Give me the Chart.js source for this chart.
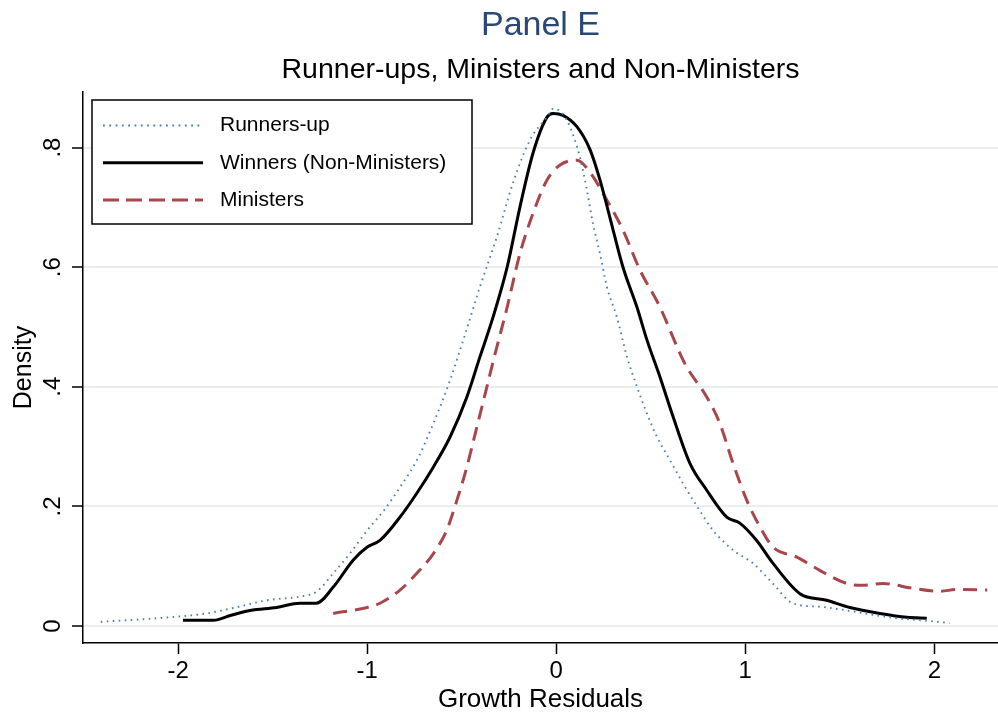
<!DOCTYPE html>
<html>
<head>
<meta charset="utf-8">
<title>Panel E</title>
<script src="https://cdn.jsdelivr.net/npm/chart.js@4.4.1/dist/chart.umd.min.js"></script>
<style>
  html, body { margin: 0; padding: 0; background: #fff; }
  #wrap { width: 998px; height: 717px; }
</style>
</head>
<body>
<div id="wrap"><canvas id="chartDensidad" width="998" height="717"></canvas></div>
<script>
// Datos (densidades kernel)
const runnersX = [-2.41, -2.2, -1.99, -1.85, -1.71, -1.53, -1.36, -1.27, -1.18, -1.09, -1.0, -0.91, -0.827, -0.738, -0.65, -0.562, -0.48, -0.404, -0.314, -0.229, -0.139, -0.049, -0.017, 0.03, 0.072, 0.125, 0.162, 0.194, 0.231, 0.268, 0.321, 0.374, 0.427, 0.48, 0.533, 0.602, 0.671, 0.745, 0.829, 0.935, 1.04, 1.146, 1.25, 1.4, 1.537, 1.65, 1.8, 1.95, 2.08];
const runnersY = [0.007, 0.011, 0.016, 0.021, 0.030, 0.043, 0.049, 0.057, 0.088, 0.122, 0.16, 0.194, 0.232, 0.277, 0.339, 0.411, 0.49, 0.567, 0.651, 0.741, 0.813, 0.851, 0.865, 0.858, 0.835, 0.784, 0.729, 0.673, 0.623, 0.567, 0.516, 0.450, 0.400, 0.355, 0.316, 0.277, 0.238, 0.200, 0.160, 0.127, 0.105, 0.071, 0.038, 0.032, 0.026, 0.020, 0.013, 0.009, 0.005];

const winnersX = [-1.975, -1.815, -1.72, -1.62, -1.48, -1.357, -1.27, -1.18, -1.075, -1.0, -0.933, -0.827, -0.738, -0.65, -0.562, -0.473, -0.404, -0.335, -0.26, -0.192, -0.123, -0.049, -0.017, 0.035, 0.109, 0.178, 0.231, 0.3, 0.353, 0.427, 0.48, 0.549, 0.618, 0.707, 0.796, 0.902, 0.971, 1.06, 1.146, 1.289, 1.43, 1.553, 1.712, 1.855, 1.96];
const winnersY = [0.0095, 0.0095, 0.018, 0.026, 0.031, 0.038, 0.038, 0.065, 0.11, 0.132, 0.143, 0.182, 0.222, 0.266, 0.316, 0.383, 0.45, 0.516, 0.6, 0.701, 0.791, 0.851, 0.857, 0.854, 0.835, 0.797, 0.746, 0.663, 0.6, 0.533, 0.478, 0.416, 0.35, 0.272, 0.227, 0.182, 0.172, 0.143, 0.105, 0.054, 0.043, 0.031, 0.021, 0.0145, 0.013];

const ministersX = [-1.18, -1.0, -0.933, -0.827, -0.738, -0.65, -0.58, -0.526, -0.473, -0.42, -0.367, -0.332, -0.26, -0.192, -0.123, -0.049, 0.02, 0.109, 0.178, 0.268, 0.353, 0.443, 0.549, 0.654, 0.69, 0.796, 0.865, 0.935, 1.008, 1.077, 1.146, 1.273, 1.394, 1.537, 1.62, 1.728, 1.887, 2.03, 2.12, 2.28];
const ministersY = [0.021, 0.031, 0.038, 0.06, 0.088, 0.121, 0.16, 0.21, 0.266, 0.333, 0.4, 0.445, 0.533, 0.623, 0.69, 0.746, 0.771, 0.779, 0.759, 0.712, 0.662, 0.595, 0.533, 0.456, 0.433, 0.383, 0.339, 0.272, 0.21, 0.166, 0.132, 0.115, 0.093, 0.071, 0.068, 0.071, 0.063, 0.058, 0.061, 0.06];

const xTicks = [-2, -1, 0, 1, 2];
const xTickLabels = ['-2', '-1', '0', '1', '2'];
const yTicks = [0, 0.2, 0.4, 0.6, 0.8];
const yTickLabels = ['0', '.2', '.4', '.6', '.8'];

const fuente = '"Liberation Sans", Arial, Helvetica, sans-serif';

function puntos(xs, ys) {
    return xs.map((x, i) => ({ x: x, y: ys[i] }));
}

// Leyenda con marco dentro del área del gráfico
const leyendaCaja = {
    id: 'leyendaCaja',
    afterDatasetsDraw(chart) {
        const { ctx, chartArea } = chart;
        const x0 = chartArea.left + 9;
        const y0 = chartArea.top + 8;
        const w = 380, h = 124;
        ctx.save();
        ctx.fillStyle = '#ffffff';
        ctx.fillRect(x0, y0, w, h);
        ctx.strokeStyle = '#000000';
        ctx.lineWidth = 1.5;
        ctx.strokeRect(x0, y0, w, h);
        chart.data.datasets.forEach((ds, i) => {
            const y = y0 + 25.5 + i * 37.3;
            ctx.beginPath();
            ctx.setLineDash(ds.legendDash || []);
            ctx.strokeStyle = ds.borderColor;
            ctx.lineWidth = ds.borderWidth;
            ctx.moveTo(x0 + 11, y);
            ctx.lineTo(x0 + 111, y);
            ctx.stroke();
            ctx.setLineDash([]);
            ctx.fillStyle = '#000000';
            ctx.font = '21px ' + fuente;
            ctx.textBaseline = 'middle';
            ctx.textAlign = 'left';
            ctx.fillText(ds.label, x0 + 128, y);
        });
        ctx.restore();
    }
};

const chartDensidad = document.getElementById('chartDensidad');
if (chartDensidad) {
    const ctx = chartDensidad.getContext('2d');

    new Chart(ctx, {
        type: 'line',
        data: {
            datasets: [
                {
                    label: 'Runners-up',
                    data: puntos(runnersX, runnersY),
                    borderColor: '#4a7fb0',
                    borderWidth: 1.9,
                    borderDash: [1.6, 4.4],
                    legendDash: [1.8, 4.5],
                    pointRadius: 0,
                    cubicInterpolationMode: 'monotone'
                },
                {
                    label: 'Winners (Non-Ministers)',
                    data: puntos(winnersX, winnersY),
                    borderColor: '#000000',
                    borderWidth: 3,
                    pointRadius: 0,
                    cubicInterpolationMode: 'monotone'
                },
                {
                    label: 'Ministers',
                    data: puntos(ministersX, ministersY),
                    borderColor: '#a9464b',
                    borderWidth: 3,
                    borderDash: [14, 8],
                    legendDash: [16, 7],
                    pointRadius: 0,
                    cubicInterpolationMode: 'monotone'
                }
            ]
        },
        options: {
            responsive: false,
            animation: false,
            devicePixelRatio: 1,
            layout: { padding: 0 },
            plugins: {
                legend: { display: false },
                tooltip: { enabled: false },
                title: {
                    display: true,
                    text: 'Panel E',
                    color: '#2a4775',
                    fullSize: false,
                    font: { family: fuente, size: 34, weight: 'normal' },
                    padding: { top: 5, bottom: 7 }
                },
                subtitle: {
                    display: true,
                    text: 'Runner-ups, Ministers and Non-Ministers',
                    color: '#000000',
                    fullSize: false,
                    font: { family: fuente, size: 28.5, weight: 'normal' },
                    padding: { top: 0, bottom: 5 }
                }
            },
            scales: {
                x: {
                    type: 'linear',
                    min: -2.504,
                    max: 2.337,
                    afterBuildTicks: scale => { scale.ticks = xTicks.map(v => ({ value: v })); },
                    afterFit: scale => { scale.height = 74; },
                    ticks: {
                        callback: value => xTickLabels[xTicks.indexOf(value)],
                        color: '#000000',
                        font: { family: fuente, size: 24 },
                        padding: 3,
                        maxRotation: 0
                    },
                    grid: {
                        drawOnChartArea: false,
                        drawTicks: true,
                        tickLength: 11,
                        tickColor: '#000000',
                        tickWidth: 1.5
                    },
                    border: { display: true, color: '#000000', width: 1.5 },
                    title: {
                        display: true,
                        text: 'Growth Residuals',
                        color: '#000000',
                        font: { family: fuente, size: 26 },
                        padding: { top: 0, bottom: 2 }
                    }
                },
                y: {
                    type: 'linear',
                    min: -0.0285,
                    max: 0.893,
                    afterBuildTicks: scale => { scale.ticks = yTicks.map(v => ({ value: v })); },
                    afterFit: scale => { scale.width = 83; },
                    ticks: {
                        callback: value => yTickLabels[yTicks.indexOf(value)],
                        color: '#000000',
                        font: { family: fuente, size: 24 },
                        minRotation: 90,
                        maxRotation: 90,
                        crossAlign: 'center',
                        padding: 9
                    },
                    grid: {
                        color: '#e7eff0',
                        lineWidth: 2,
                        drawTicks: true,
                        tickLength: 11,
                        tickColor: '#000000',
                        tickWidth: 1.5
                    },
                    border: { display: true, color: '#000000', width: 1.5 },
                    title: {
                        display: true,
                        text: 'Density',
                        color: '#000000',
                        font: { family: fuente, size: 25 },
                        padding: { top: 9, bottom: 0 }
                    }
                }
            }
        },
        plugins: [leyendaCaja]
    });
}
</script>
</body>
</html>
